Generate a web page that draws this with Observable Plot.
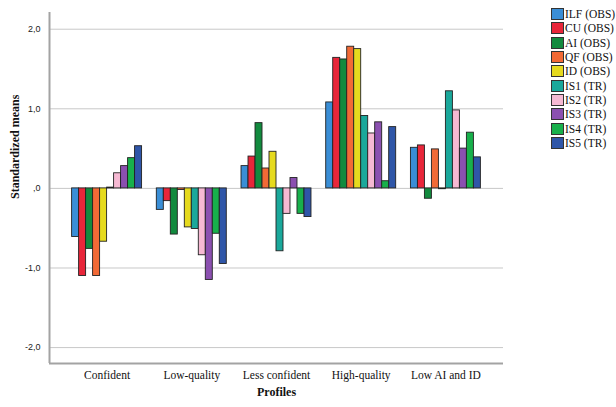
<!DOCTYPE html>
<html><head><meta charset="utf-8">
<script src="https://cdn.jsdelivr.net/npm/d3@7"></script>
<script src="https://cdn.jsdelivr.net/npm/@observablehq/plot@0.6"></script>
<style>
body{margin:0;background:#fff;}
#wrap{position:relative;width:616px;height:407px;overflow:hidden;background:#fff;}
#legend{position:absolute;left:551px;top:7px;font-family:"Liberation Serif","Times New Roman",serif;font-size:11.5px;color:#111;}
.row{display:flex;align-items:center;height:14.3px;white-space:nowrap;}
.sw{width:13px;height:12px;border:1px solid #333;box-sizing:border-box;margin-right:1px;flex:none;}
</style></head><body>
<div id="wrap"><div id="chart"></div><div id="legend"></div></div>
<script>
const profiles = ["Confident", "Low-quality", "Less confident", "High-quality", "Low AI and ID"];
const seriesNames = ["ILF (OBS)", "CU (OBS)", "AI (OBS)", "QF (OBS)", "ID (OBS)", "IS1 (TR)", "IS2 (TR)", "IS3 (TR)", "IS4 (TR)", "IS5 (TR)"];
const seriesColors = ["#3a8ed6", "#e8263a", "#128a3e", "#f26a36", "#e6da1e", "#1aa89b", "#f6b9d3", "#8b50b0", "#18b04b", "#2f56a8"];
const ILF = [-0.61, -0.27, 0.28, 1.08, 0.51];
const CU  = [-1.10, -0.16, 0.40, 1.64, 0.54];
const AI  = [-0.76, -0.58, 0.82, 1.62, -0.13];
const QF  = [-1.10, -0.02, 0.25, 1.78, 0.49];
const ID  = [-0.67, -0.49, 0.46, 1.75, -0.01];
const IS1 = [0.01, -0.51, -0.79, 0.91, 1.22];
const IS2 = [0.19, -0.84, -0.32, 0.69, 0.98];
const IS3 = [0.28, -1.15, 0.13, 0.83, 0.50];
const IS4 = [0.38, -0.57, -0.32, 0.09, 0.70];
const IS5 = [0.53, -0.95, -0.36, 0.77, 0.39];
const yTicks = [-2, -1, 0, 1, 2];
const yTickLabels = ["-2,0", "-1,0", ",0", "1,0", "2,0"];

const seriesValues = [ILF, CU, AI, QF, ID, IS1, IS2, IS3, IS4, IS5];
const yDomain = [-2.2, 2.21];
const xDomain = [-0.68, 4.68];
const barW = 0.0826;
const serif = "Liberation Serif, Times New Roman, serif";

const data = [];
seriesValues.forEach((vals, si) => {
  vals.forEach((v, gi) => {
    const x1 = gi + (si - 5) * barW;
    data.push({series: seriesNames[si], color: seriesColors[si], x1, x2: x1 + barW, v});
  });
});

const chart = Plot.plot({
  width: 616,
  height: 407,
  marginLeft: 49,
  marginRight: 113,
  marginTop: 12,
  marginBottom: 44,
  style: {background: "#fff"},
  x: {domain: xDomain, axis: null},
  y: {domain: yDomain, axis: null},
  marks: [
    Plot.ruleY(yTicks, {stroke: "#c8c8c8", strokeWidth: 1}),
    Plot.rect(data, {x1: "x1", x2: "x2", y1: 0, y2: "v", fill: "color", stroke: "#222", strokeWidth: 0.9}),
    Plot.ruleX([xDomain[0]], {stroke: "#a3a3a3", strokeWidth: 2}),
    Plot.ruleY([yDomain[0]], {stroke: "#a3a3a3", strokeWidth: 2}),
    Plot.axisY({ticks: yTicks, tickFormat: d => yTickLabels[yTicks.indexOf(d)], tickSize: 0, tickPadding: 9, label: null, fontSize: 9, fontFamily: "Liberation Sans, Arial, sans-serif", fill: "#222"}),
    Plot.text(d3.range(profiles.length), {x: d => d, text: i => profiles[i], frameAnchor: "bottom", dy: 15, fontSize: 11.5, fontFamily: serif, fill: "#111"}),
    Plot.text(["Standardized means"], {frameAnchor: "left", dx: -34, dy: 11, rotate: -90, fontWeight: "bold", fontSize: 12, fontFamily: serif, fill: "#111"}),
    Plot.text(["Profiles"], {frameAnchor: "bottom", dy: 32, fontWeight: "bold", fontSize: 12, fontFamily: serif, fill: "#111"})
  ]
});
document.getElementById("chart").appendChild(chart);

const legend = document.getElementById("legend");
seriesNames.forEach((name, i) => {
  const row = document.createElement("div");
  row.className = "row";
  const sw = document.createElement("div");
  sw.className = "sw";
  sw.style.background = seriesColors[i];
  const label = document.createElement("span");
  label.textContent = name;
  row.appendChild(sw);
  row.appendChild(label);
  legend.appendChild(row);
});
</script>
</body></html>
